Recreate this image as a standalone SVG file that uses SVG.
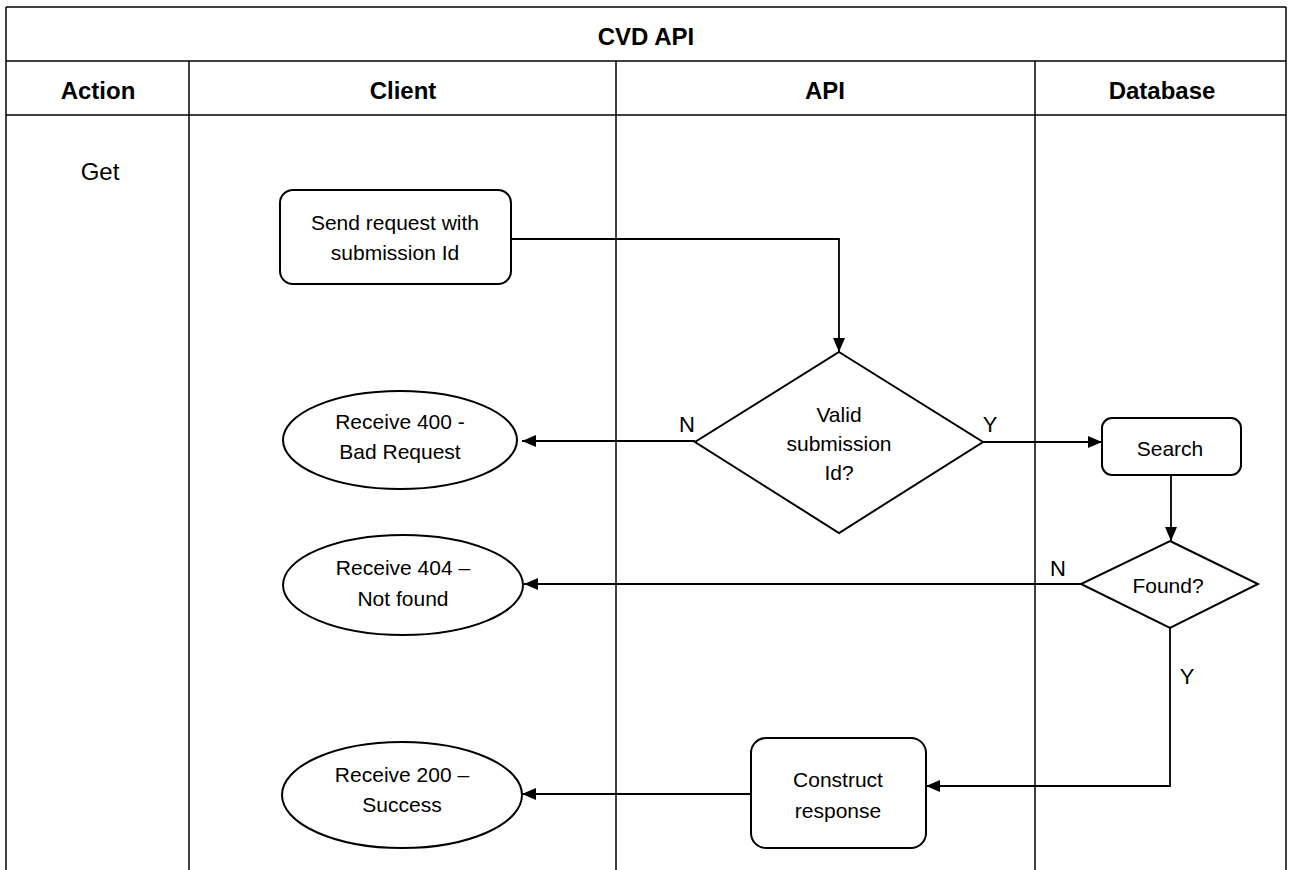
<svg xmlns="http://www.w3.org/2000/svg" width="1289" height="870" viewBox="0 0 1289 870">
<style>
.grid{stroke:#000;stroke-width:1.5;fill:none}
.shape{stroke:#000;stroke-width:2;fill:#fff}
.conn{stroke:#000;stroke-width:1.8;fill:none}
text{font-family:"Liberation Sans",Arial,sans-serif;fill:#000}
.hdr{font-size:24px;font-weight:bold;text-anchor:middle}
.lbl{font-size:21px;text-anchor:middle}
.yn{font-size:22px;text-anchor:middle}
</style>
<defs>
<marker id="arr" markerWidth="14" markerHeight="12" refX="14" refY="6" orient="auto" markerUnits="userSpaceOnUse">
<path d="M0,0 L14,6 L0,12 Z" fill="#000"/>
</marker>
</defs>
<rect width="1289" height="870" fill="#fff"/>
<g id="frame">
<line class="grid" x1="6" y1="7" x2="1286" y2="7"/>
<line class="grid" x1="6" y1="7" x2="6" y2="870"/>
<line class="grid" x1="1286" y1="7" x2="1286" y2="870"/>
<line class="grid" x1="6" y1="61" x2="1286" y2="61"/>
<line class="grid" x1="6" y1="115" x2="1286" y2="115"/>
<line class="grid" x1="189" y1="61" x2="189" y2="870"/>
<line class="grid" x1="616" y1="61" x2="616" y2="870"/>
<line class="grid" x1="1035" y1="61" x2="1035" y2="870"/>
<text class="hdr" x="646" y="45">CVD API</text>
<text class="hdr" x="98" y="99">Action</text>
<text class="hdr" x="403" y="99">Client</text>
<text class="hdr" x="825" y="99">API</text>
<text class="hdr" x="1162" y="99">Database</text>
<text x="100" y="180" style="font-size:24px;text-anchor:middle">Get</text>
</g>
<g id="connectors">
<polyline class="conn" points="511,239 839,239 839,352" marker-end="url(#arr)"/>
<line class="conn" x1="695" y1="441" x2="522" y2="441" marker-end="url(#arr)"/>
<line class="conn" x1="983" y1="442" x2="1102" y2="442" marker-end="url(#arr)"/>
<line class="conn" x1="1171" y1="475" x2="1171" y2="541" marker-end="url(#arr)"/>
<line class="conn" x1="1081" y1="584" x2="524" y2="584" marker-end="url(#arr)"/>
<polyline class="conn" points="1170,628 1170,786 926,786" marker-end="url(#arr)"/>
<line class="conn" x1="751" y1="794" x2="522" y2="794" marker-end="url(#arr)"/>
<text class="yn" x="687" y="432">N</text>
<text class="yn" x="990" y="432">Y</text>
<text class="yn" x="1058" y="576">N</text>
<text class="yn" x="1187" y="684">Y</text>
</g>
<g id="send">
<rect class="shape" x="280" y="190" width="231" height="94" rx="13"/>
<text class="lbl" x="395" y="230">Send request with</text>
<text class="lbl" x="395" y="260">submission Id</text>
</g>
<g id="valid">
<polygon class="shape" points="839,352 983,442 839,533 695,442"/>
<text class="lbl" x="839" y="422">Valid</text>
<text class="lbl" x="839" y="451">submission</text>
<text class="lbl" x="839" y="480">Id?</text>
</g>
<g id="r400">
<ellipse class="shape" cx="400" cy="440" rx="117" ry="49"/>
<text class="lbl" x="400" y="429">Receive 400 -</text>
<text class="lbl" x="400" y="459">Bad Request</text>
</g>
<g id="search">
<rect class="shape" x="1102" y="418" width="139" height="57" rx="10"/>
<text class="lbl" x="1170" y="456">Search</text>
</g>
<g id="found">
<polygon class="shape" points="1170,541 1258,584 1170,628 1081,584"/>
<text class="lbl" x="1168" y="593">Found?</text>
</g>
<g id="r404">
<ellipse class="shape" cx="403" cy="585" rx="120" ry="50"/>
<text class="lbl" x="403" y="575">Receive 404 –</text>
<text class="lbl" x="403" y="606">Not found</text>
</g>
<g id="construct">
<rect class="shape" x="751" y="738" width="175" height="110" rx="15"/>
<text class="lbl" x="838" y="787">Construct</text>
<text class="lbl" x="838" y="818">response</text>
</g>
<g id="r200">
<ellipse class="shape" cx="402" cy="795" rx="120" ry="53"/>
<text class="lbl" x="402" y="782">Receive 200 –</text>
<text class="lbl" x="402" y="812">Success</text>
</g>
</svg>
